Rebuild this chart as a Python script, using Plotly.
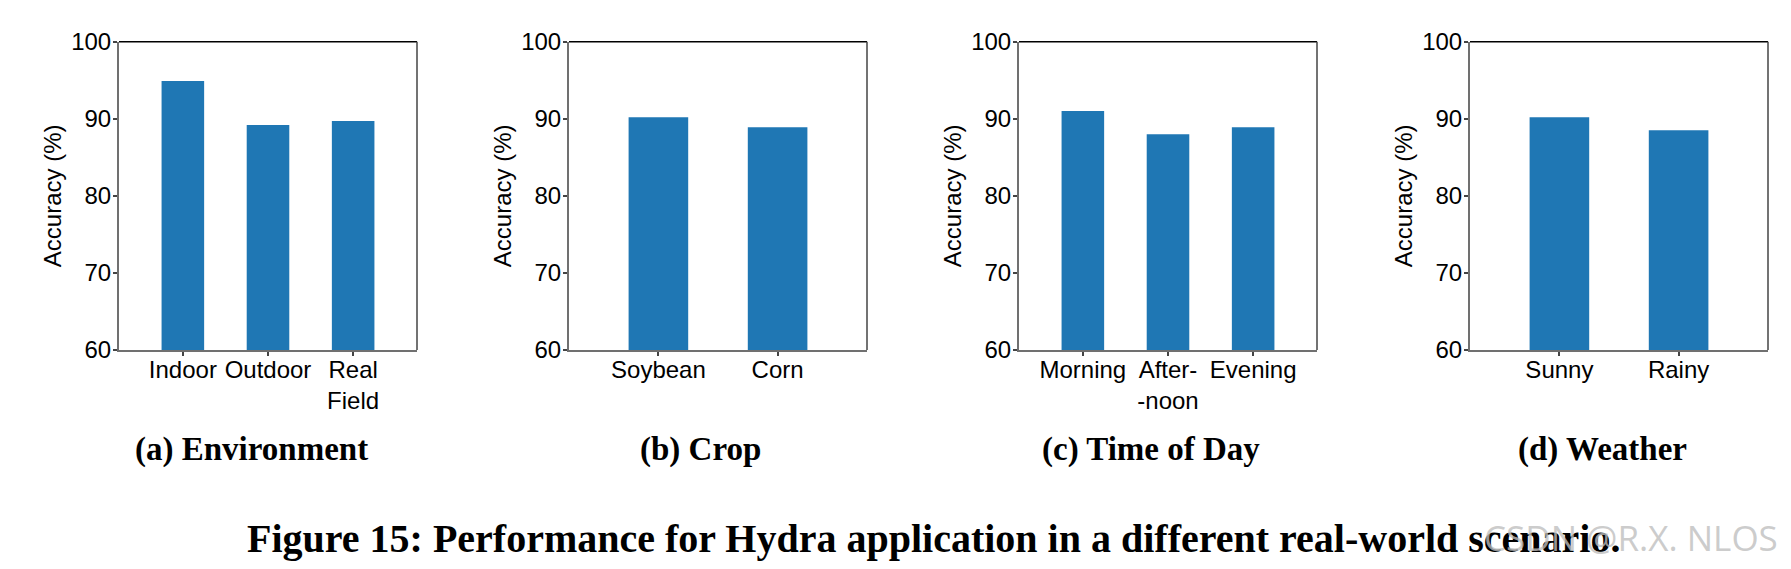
import plotly.graph_objects as go

# page body adds an 8px margin; the figure fills the rest of the 1791x569 window
OFF = 8
W, H = 1791 - 2 * OFF, 569 - 2 * OFF

env_cats = ["Indoor", "Outdoor", "Real<br>Field"]
env_vals = [94.9, 89.2, 89.7]

crop_cats = ["Soybean", "Corn"]
crop_vals = [90.2, 88.9]

time_cats = ["Morning", "After-<br>-noon", "Evening"]
time_vals = [91.0, 88.0, 88.9]

weather_cats = ["Sunny", "Rainy"]
weather_vals = [90.2, 88.5]

subtitles = ["(a) Environment", "(b) Crop", "(c) Time of Day", "(d) Weather"]
caption = "Figure 15: Performance for Hydra application in a different real-world scenario."
watermark = "CSDN @R.X. NLOS"

y_ticks = [60, 70, 80, 90, 100]
y_title = "Accuracy (%)"

panels = [(env_cats, env_vals), (crop_cats, crop_vals),
          (time_cats, time_vals), (weather_cats, weather_vals)]


def fx(px):
    return (px - OFF) / W


def fy(py):
    return 1 - (py - OFF) / H


# axes pixel extents (left, right) in window pixels
px_x = [(119, 417), (569, 867), (1019, 1317), (1470, 1768)]
top_px, bot_px = 41.7, 350
sub_px_x = [251, 700, 1151, 1602]

BAR = "#1f77b4"
SANS = "Liberation Sans, Arial, sans-serif"
SERIF = "Liberation Serif, Times New Roman, serif"

fig = go.Figure()
layout = dict(
    template="none",
    width=W, height=H,
    margin=dict(l=0, r=0, t=0, b=0, pad=0, autoexpand=False),
    paper_bgcolor="white", plot_bgcolor="white",
    showlegend=False,
    font=dict(family=SANS, size=24, color="black"),
)
shapes = []
annotations = []
ydom = [fy(bot_px), fy(top_px)]
for i, ((cats, vals), (l, r)) in enumerate(zip(panels, px_x)):
    n = i + 1
    xa = "x" if n == 1 else f"x{n}"
    ya = "y" if n == 1 else f"y{n}"
    xk = "xaxis" if n == 1 else f"xaxis{n}"
    yk = "yaxis" if n == 1 else f"yaxis{n}"
    fig.add_trace(go.Bar(x=list(range(len(cats))), y=vals, width=0.5,
                         marker=dict(color=BAR, line=dict(width=0)),
                         xaxis=xa, yaxis=ya, hoverinfo="skip"))
    layout[xk] = dict(domain=[fx(l), fx(r)], anchor=ya, automargin=False,
                      range=[-0.75, len(cats) - 0.25],
                      tickmode="array", tickvals=list(range(len(cats))),
                      ticktext=cats, ticks="outside", ticklen=4, tickwidth=1.5,
                      tickcolor="#444", showline=True, linecolor="#707070",
                      linewidth=2, showgrid=False, zeroline=False,
                      ticklabelstandoff=-7,
                      tickfont=dict(family=SANS, size=24, color="black"),
                      fixedrange=True)
    layout[yk] = dict(domain=ydom, anchor=xa, range=[60, 100], automargin=False,
                      tickmode="array", tickvals=y_ticks,
                      ticks="outside", ticklen=4, tickwidth=1.5, tickcolor="#444",
                      showline=True, linecolor="#707070", linewidth=2,
                      showgrid=False, zeroline=False,
                      ticklabelstandoff=-3,
                      tickfont=dict(family=SANS, size=24, color="black"),
                      title=dict(text=y_title, standoff=3,
                                 font=dict(family=SANS, size=24, color="black")),
                      fixedrange=True)
    # top and right frame lines
    shapes.append(dict(type="line", xref=f"{xa} domain", yref=f"{ya} domain",
                       x0=0, x1=1, y0=1, y1=1, line=dict(color="black", width=1.5)))
    shapes.append(dict(type="line", xref=f"{xa} domain", yref=f"{ya} domain",
                       x0=1, x1=1, y0=0, y1=1, line=dict(color="#444", width=1.5)))
    annotations.append(dict(text=f"<b>{subtitles[i]}</b>", xref="paper", yref="paper",
                            x=fx(sub_px_x[i]), y=fy(449), xanchor="center",
                            yanchor="middle", showarrow=False,
                            font=dict(family=SERIF, size=33, color="black")))

annotations.append(dict(text=f"<b>{caption}</b>", xref="paper", yref="paper",
                        x=fx(933), y=fy(538), xanchor="center", yanchor="middle",
                        showarrow=False, font=dict(family=SERIF, size=40, color="black")))
annotations.append(dict(text=watermark, xref="paper", yref="paper",
                        x=fx(1780), y=fy(537), xanchor="right", yanchor="middle",
                        showarrow=False,
                        font=dict(family="Open Sans, sans-serif", size=35,
                                  color="rgba(190,190,190,0.8)")))
layout["shapes"] = shapes
layout["annotations"] = annotations
fig.update_layout(**layout)
fig.write_html("out.html", config={"displayModeBar": False})
